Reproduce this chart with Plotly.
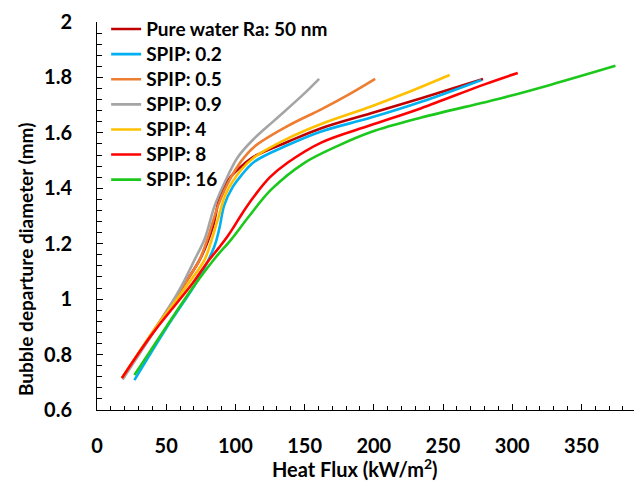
import plotly.graph_objects as go

names = ["Pure water Ra: 50 nm", "SPIP: 0.2", "SPIP: 0.5", "SPIP: 0.9", "SPIP: 4", "SPIP: 8", "SPIP: 16"]
colors = ["#C00000", "#00B0F0", "#ED7D31", "#A5A5A5", "#FFC000", "#FF0000", "#1CC81C"]

x_pure = [18, 40, 60, 75, 83.6, 89.7, 96.9, 104, 113.7, 137.9, 162, 198, 234.3, 278.9]
y_pure = [0.715, 0.875, 1.03, 1.15, 1.26, 1.385, 1.443, 1.478, 1.515, 1.568, 1.617, 1.671, 1.725, 1.794]

x_02 = [27, 50, 72.8, 84.8, 88.4, 92, 98.1, 104, 113.7, 137.9, 162, 198, 234.3, 277.7]
y_02 = [0.708, 0.895, 1.069, 1.19, 1.255, 1.34, 1.405, 1.445, 1.496, 1.556, 1.605, 1.655, 1.712, 1.791]

x_05 = [18, 40, 60, 74, 80, 87.2, 94.5, 104.1, 113.7, 137.9, 162, 182.4, 201]
y_05 = [0.715, 0.88, 1.03, 1.141, 1.22, 1.334, 1.418, 1.497, 1.55, 1.625, 1.685, 1.74, 1.795]

x_09 = [18.5, 40, 59.5, 70.4, 78, 84.8, 92, 101.7, 113.7, 128.2, 148.7, 160.5]
y_09 = [0.71, 0.875, 1.033, 1.141, 1.22, 1.334, 1.418, 1.512, 1.58, 1.645, 1.737, 1.795]

x_4 = [18, 40, 64.4, 77.6, 82, 87.2, 93.3, 104.1, 113.7, 137.9, 162, 198, 221, 254.8]
y_4 = [0.715, 0.88, 1.045, 1.141, 1.2, 1.286, 1.382, 1.466, 1.512, 1.58, 1.632, 1.695, 1.739, 1.809]

x_8 = [18, 40, 69.2, 80, 88, 94.5, 99, 104.1, 113.7, 125, 137.9, 162, 198, 234.3, 280, 304]
y_8 = [0.715, 0.875, 1.058, 1.135, 1.185, 1.228, 1.262, 1.303, 1.372, 1.44, 1.493, 1.565, 1.628, 1.689, 1.775, 1.816]

x_16 = [27, 50, 69, 84.8, 96.9, 110, 125.8, 149.9, 174, 198, 234.3, 292, 328, 374.6]
y_16 = [0.726, 0.9, 1.04, 1.145, 1.215, 1.30, 1.395, 1.492, 1.553, 1.603, 1.655, 1.725, 1.774, 1.842]

xs = [x_pure, x_02, x_05, x_09, x_4, x_8, x_16]
ys = [y_pure, y_02, y_05, y_09, y_4, y_8, y_16]

x_title = "Heat Flux (kW/m<sup>2</sup>)"
y_title = "Bubble departure diameter (mm)"

FONT = "Lato"
FS = 20

fig = go.Figure()
for i, (n, c, xv, yv) in enumerate(zip(names, colors, xs, ys)):
    fig.add_trace(go.Scatter(
        x=xv, y=yv, mode="lines",
        name=f'<span style="font-size:19px">{n}</span>',
        legendgroup=f"g{i}",
        line=dict(color=c, width=2.6, shape="spline", smoothing=1.0),
    ))

fig.update_layout(
    width=634, height=484,
    margin=dict(l=97, r=0, t=22, b=74),
    paper_bgcolor="white", plot_bgcolor="white",
    font=dict(family=FONT, size=FS, color="black", weight="bold"),
    showlegend=True,
    legend=dict(
        x=0.017, y=1.027, xanchor="left", yanchor="top",
        bgcolor="rgba(0,0,0,0)", font=dict(family=FONT, size=17, color="black", weight="bold"),
        tracegroupgap=0, itemwidth=30,
    ),
    xaxis=dict(
        range=[0, 388], dtick=50, tick0=0, showgrid=False, zeroline=False,
        showline=True, linecolor="black", linewidth=1,
        ticks="inside", ticklen=6, tickcolor="black", tickwidth=1,
        minor=dict(dtick=10, ticks="inside", ticklen=4, tickcolor="black", tickwidth=1, showgrid=False),
        ticklabelstandoff=18,
        tickfont=dict(family=FONT, size=FS, color="black", weight="bold"),
    ),
    yaxis=dict(
        range=[0.6, 2.0], dtick=0.2, tick0=0.6, showgrid=False, zeroline=False,
        showline=True, linecolor="black", linewidth=1,
        ticks="inside", ticklen=6, tickcolor="black", tickwidth=1,
        minor=dict(dtick=0.04, ticks="inside", ticklen=5, tickcolor="black", tickwidth=1, showgrid=False),
        ticklabelstandoff=20,
        tickfont=dict(family=FONT, size=FS, color="black", weight="bold"),
    ),
    annotations=[
        dict(text=x_title, xref="paper", yref="paper", x=(355 - 97) / 537, y=-(468 - 410) / 388,
             xanchor="center", yanchor="middle", showarrow=False,
             font=dict(family=FONT, size=FS, color="black", weight="bold")),
        dict(text=y_title, xref="paper", yref="paper", x=-(97 - 25) / 537, y=(410 - 260) / 388,
             xanchor="center", yanchor="middle", showarrow=False, textangle=-90,
             font=dict(family=FONT, size=19, color="black", weight="bold")),
    ],
)

fig.write_html("out.html")
